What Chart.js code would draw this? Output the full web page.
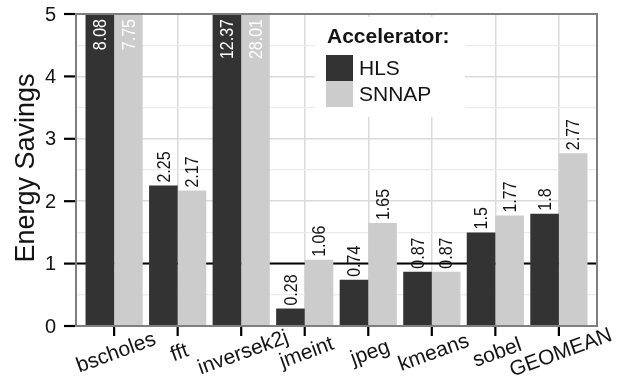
<!DOCTYPE html>
<html>
<head>
<meta charset="utf-8">
<script src="https://cdn.jsdelivr.net/npm/chart.js@4/dist/chart.umd.min.js"></script>
<style>
  html, body { margin: 0; padding: 0; background: #ffffff; }
  #wrap { width: 628px; height: 381px; }
</style>
</head>
<body>
<div id="wrap"><canvas id="c" width="628" height="381"></canvas></div>
<script>
// Benchmarks on the x axis
const categories = ['bscholes', 'fft', 'inversek2j', 'jmeint', 'jpeg', 'kmeans', 'sobel', 'GEOMEAN'];
// Energy savings per accelerator
const hlsValues = [8.08, 2.25, 12.37, 0.28, 0.74, 0.87, 1.5, 1.8];
const snnapValues = [7.75, 2.17, 28.01, 1.06, 1.65, 0.87, 1.77, 2.77];
const seriesNames = ['HLS', 'SNNAP'];
const yTicks = [0, 1, 2, 3, 4, 5];
const legendTitle = 'Accelerator:';
const yTitle = 'Energy Savings';
const baselineValue = 1;

const Y_MAX = 5;
const FONT = '"Liberation Sans", Arial, Helvetica, sans-serif';
const COLORS = ['#333333', '#cccccc'];
const TEXT = '#141414';

const seriesValues = [hlsValues, snnapValues];

const overlay = {
  id: 'overlay',
  beforeDatasetsDraw(chart) {
    const { ctx, chartArea: a, scales: { y } } = chart;
    const py = y.getPixelForValue(baselineValue);
    ctx.save();
    ctx.strokeStyle = '#000000';
    ctx.lineWidth = 2;
    ctx.beginPath();
    ctx.moveTo(a.left, py);
    ctx.lineTo(a.right, py);
    ctx.stroke();
    ctx.restore();
  },
  afterDatasetsDraw(chart) {
    const { ctx, chartArea: a, scales: { x, y } } = chart;
    ctx.save();

    // value labels, rotated, above each bar (inside the bar when it runs off the top)
    ctx.font = '16px ' + FONT;
    chart.data.datasets.forEach((ds, di) => {
      const meta = chart.getDatasetMeta(di);
      meta.data.forEach((el, i) => {
        const v = seriesValues[di][i];
        const txt = String(v);
        ctx.save();
        if (v > Y_MAX) {
          ctx.translate(el.x, a.top + 5);
          ctx.rotate(-Math.PI / 2);
          ctx.textAlign = 'right';
          ctx.fillStyle = '#ffffff';
        } else {
          ctx.translate(el.x, el.y - 3);
          ctx.rotate(-Math.PI / 2);
          ctx.textAlign = 'left';
          ctx.fillStyle = TEXT;
        }
        ctx.scale(1, 1.15);
        ctx.textBaseline = 'middle';
        ctx.fillText(txt, 0, 1);
        ctx.restore();
      });
    });

    // panel border
    ctx.strokeStyle = '#7f7f7f';
    ctx.lineWidth = 2;
    ctx.strokeRect(a.left, a.top, a.right - a.left, a.bottom - a.top);

    // y ticks and labels
    ctx.strokeStyle = '#000000';
    ctx.lineWidth = 2.2;
    ctx.fillStyle = TEXT;
    ctx.font = '20px ' + FONT;
    ctx.textAlign = 'right';
    ctx.textBaseline = 'middle';
    yTicks.forEach(t => {
      const py = y.getPixelForValue(t);
      ctx.beginPath();
      ctx.moveTo(a.left - 12, py);
      ctx.lineTo(a.left - 1, py);
      ctx.stroke();
      ctx.fillText(String(t), a.left - 20, py + 1);
    });

    // x ticks and rotated labels
    ctx.font = '21px ' + FONT;
    categories.forEach((c, i) => {
      const px = x.getPixelForValue(i);
      ctx.beginPath();
      ctx.moveTo(px, a.bottom + 1);
      ctx.lineTo(px, a.bottom + 10);
      ctx.stroke();
      ctx.save();
      ctx.translate(px + 2, a.bottom + 27);
      ctx.rotate(-20 * Math.PI / 180);
      ctx.textAlign = 'center';
      ctx.textBaseline = 'middle';
      ctx.fillText(c, 0, 0);
      ctx.restore();
    });

    // y axis title
    ctx.save();
    ctx.font = '27px ' + FONT;
    ctx.translate(34, (a.top + a.bottom) / 2 - 2);
    ctx.rotate(-Math.PI / 2);
    ctx.textAlign = 'center';
    ctx.textBaseline = 'alphabetic';
    ctx.fillText(yTitle, 0, 0);
    ctx.restore();

    // legend
    const lx = 315, ly = 17;
    ctx.fillStyle = '#ffffff';
    ctx.fillRect(lx, ly, 150, 100);
    ctx.fillStyle = TEXT;
    ctx.font = 'bold 21px ' + FONT;
    ctx.textAlign = 'left';
    ctx.textBaseline = 'alphabetic';
    ctx.fillText(legendTitle, lx + 12, ly + 26);
    ctx.font = '21px ' + FONT;
    ctx.textBaseline = 'middle';
    seriesNames.forEach((n, i) => {
      const ky = ly + 38 + i * 26;
      ctx.fillStyle = COLORS[i];
      ctx.fillRect(lx + 11, ky, 27, 26);
      ctx.fillStyle = TEXT;
      ctx.fillText(n, lx + 44, ky + 14);
    });

    ctx.restore();
  }
};

new Chart(document.getElementById('c'), {
  type: 'bar',
  data: {
    datasets: seriesNames.map((name, di) => ({
      label: name,
      data: categories.map((c, i) => ({ x: i, y: seriesValues[di][i] })),
      backgroundColor: COLORS[di],
      borderWidth: 0,
      categoryPercentage: 0.9,
      barPercentage: 1.0
    }))
  },
  options: {
    responsive: false,
    animation: false,
    events: [],
    layout: { padding: { left: 76, right: 31, top: 14, bottom: 55 } },
    plugins: { legend: { display: false }, tooltip: { enabled: false } },
    scales: {
      x: {
        type: 'linear',
        offset: false,
        min: -0.6,
        max: categories.length - 1 + 0.6,
        afterBuildTicks: s => { s.ticks = categories.map((c, i) => ({ value: i })); },
        ticks: { display: false },
        border: { display: false },
        grid: { offset: false, color: '#dadada', lineWidth: 1.5, drawTicks: false }
      },
      y: {
        min: 0,
        max: Y_MAX,
        ticks: { display: false, stepSize: 0.5 },
        border: { display: false },
        grid: {
          drawTicks: false,
          color: c => (c.tick.value % 1 === 0 ? '#dadada' : '#ececec'),
          lineWidth: c => (c.tick.value % 1 === 0 ? 1.5 : 1.2)
        }
      }
    }
  },
  plugins: [overlay]
});
</script>
</body>
</html>
